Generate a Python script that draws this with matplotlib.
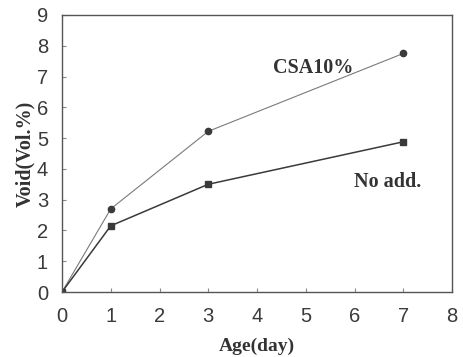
import matplotlib
matplotlib.use("Agg")
import matplotlib.pyplot as plt

age = [0, 1, 3, 7]
csa10 = [0, 2.7, 5.22, 7.75]
no_add = [0, 2.15, 3.5, 4.88]
xticks = [0, 1, 2, 3, 4, 5, 6, 7, 8]
yticks = [0, 1, 2, 3, 4, 5, 6, 7, 8, 9]

fig = plt.figure(figsize=(4.63, 3.57), dpi=100)
ax = fig.add_axes([62/463, 1-292/357, 390/463, 277/357])

ax.plot(age, csa10, color='#7a7a7a', lw=0.8, marker='o', ms=4.5, mfc='#3a3a3a', mec='#3a3a3a')
ax.plot(age, no_add, color='#3a3a3a', lw=1.1, marker='s', ms=4.5, mfc='#3a3a3a', mec='#3a3a3a')

ax.set_xlim(0, 8)
ax.set_ylim(0, 9)
ax.set_xticks(xticks)
ax.set_yticks(yticks)
ax.tick_params(direction='in', length=3, color='#888888', labelsize=14.5, labelcolor='#3a3a3a')
ax.tick_params(axis='x', pad=11)
ax.tick_params(axis='y', pad=10)
for lab in ax.get_xticklabels() + ax.get_yticklabels():
    lab.set_family('Liberation Sans')
for s in ax.spines.values():
    s.set_color('#555555')
    s.set_linewidth(1.0)

serif = dict(family='Liberation Serif', weight='bold', color='#333333')
ax.set_xlabel('Age(day)', fontsize=14, labelpad=8, **serif)
ax.set_ylabel('Void(Vol.%)', fontsize=14.5, labelpad=1, **serif)
ax.text(5.15, 7.27, 'CSA10%', fontsize=14.5, ha='center', va='center', **serif)
ax.text(6.68, 3.57, 'No add.', fontsize=14.5, ha='center', va='center', **serif)

fig.savefig('out.png', dpi=100)
